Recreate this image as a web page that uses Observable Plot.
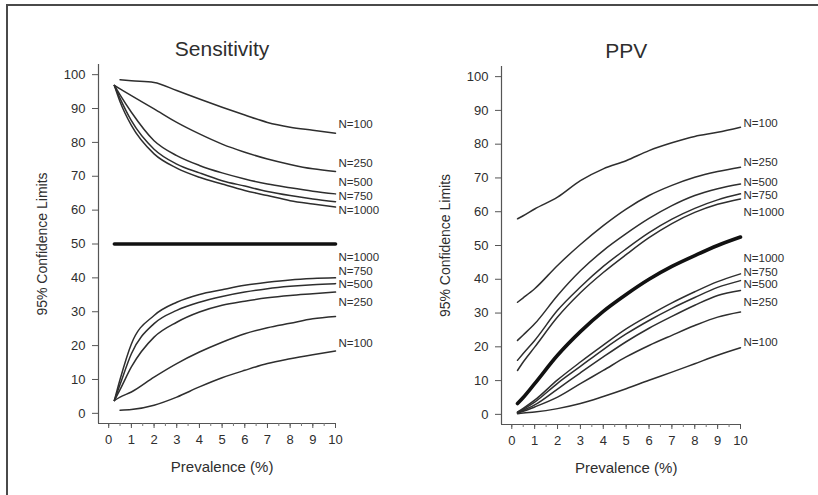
<!DOCTYPE html>
<html><head><meta charset="utf-8">
<script src="https://cdn.jsdelivr.net/npm/d3@7"></script>
<script src="https://cdn.jsdelivr.net/npm/@observablehq/plot@0.6"></script>
<style>
html,body{margin:0;padding:0;background:#fff;}
body{width:818px;height:495px;position:relative;overflow:hidden;font-family:"Liberation Sans",Arial,sans-serif;}
#frame{position:absolute;left:6px;top:4px;width:840px;height:540px;border:2px solid #4a4a4a;box-sizing:border-box;}
.panel{position:absolute;top:0;}
</style></head><body>
<div id="frame"></div>
<div id="left" class="panel" style="left:0px"></div>
<div id="right" class="panel" style="left:409px"></div>
<script>
// ---------- data ----------
const prevalence = [0.25, 0.5, 1, 2, 3, 4, 5, 6, 7, 8, 9, 10];
const seriesNames = ["N=100", "N=250", "N=500", "N=750", "N=1000"];
const xTicks = [0,1,2,3,4,5,6,7,8,9,10];
const xMinorTicks = [0,0.5,1,1.5,2,2.5,3,3.5,4,4.5,5,5.5,6,6.5,7,7.5,8,8.5,9,9.5,10];
const yTicks = [0,10,20,30,40,50,60,70,80,90,100];

// Sensitivity: upper 95% limits
const sensUpper100  = [null, 98.5, 98.2, 97.7, 95.3, 92.8, 90.4, 88.1, 85.9, 84.5, 83.6, 82.7];
const sensUpper250  = [96.8, 95.8, 93.8, 89.9, 85.9, 82.5, 79.5, 77.1, 75.1, 73.5, 72.2, 71.4];
const sensUpper500  = [96.8, 94.0, 88.9, 80.5, 76.1, 73.2, 71.0, 69.2, 67.7, 66.6, 65.6, 64.8];
const sensUpper750  = [96.8, 93.0, 86.4, 78.0, 73.6, 71.0, 68.7, 67.1, 65.5, 64.3, 63.3, 62.5];
const sensUpper1000 = [96.8, 92.0, 85.0, 76.6, 72.4, 69.7, 67.7, 65.8, 64.3, 62.8, 61.8, 60.9];
// Sensitivity: lower 95% limits
const sensLower100  = [null, 0.9, 1.1, 2.4, 4.8, 7.8, 10.5, 12.7, 14.7, 16.1, 17.3, 18.4];
const sensLower250  = [3.8, 4.8, 6.3, 10.7, 14.7, 18.1, 21.0, 23.5, 25.3, 26.6, 27.9, 28.6];
const sensLower500  = [3.8, 7.0, 13.7, 22.5, 26.9, 29.9, 31.9, 33.1, 34.1, 34.8, 35.3, 35.8];
const sensLower750  = [3.8, 8.5, 17.6, 26.5, 30.4, 32.8, 34.5, 35.8, 36.8, 37.5, 38.0, 38.3];
const sensLower1000 = [3.8, 10.0, 20.5, 28.9, 32.8, 35.1, 36.5, 37.8, 38.7, 39.4, 39.8, 40.0];
// Sensitivity point estimate
const sensPoint = [50, 50, 50, 50, 50, 50, 50, 50, 50, 50, 50, 50];

// PPV: upper 95% limits
const ppvUpper100  = [57.9, 58.8, 60.8, 64.3, 69.2, 72.7, 75.1, 78.1, 80.4, 82.3, 83.5, 85.0];
const ppvUpper250  = [33.2, 34.5, 37.2, 44.1, 50.3, 55.9, 60.8, 64.8, 67.8, 70.2, 71.9, 73.2];
const ppvUpper500  = [21.9, 23.5, 26.8, 35.2, 42.5, 48.5, 53.5, 58.0, 61.8, 64.8, 66.8, 68.2];
const ppvUpper750  = [16.0, 18.0, 21.9, 30.8, 37.7, 43.8, 49.0, 53.8, 57.8, 61.0, 63.5, 65.3];
const ppvUpper1000 = [13.0, 15.5, 19.9, 28.8, 36.0, 42.0, 47.3, 52.3, 56.5, 59.8, 62.2, 63.8];
// PPV: lower 95% limits
const ppvLower100  = [0.2, 0.4, 0.7, 1.7, 3.2, 5.3, 7.6, 10.1, 12.5, 15.0, 17.5, 19.7];
const ppvLower250  = [0.4, 0.9, 2.2, 5.1, 9.1, 13.0, 17.0, 20.4, 23.4, 26.3, 28.8, 30.3];
const ppvLower500  = [0.5, 1.2, 2.8, 7.5, 12.3, 17.0, 21.5, 25.5, 29.0, 32.3, 35.2, 36.7];
const ppvLower750  = [0.6, 1.5, 3.6, 9.2, 14.2, 19.2, 23.8, 27.8, 31.4, 34.6, 37.6, 39.6];
const ppvLower1000 = [0.7, 1.8, 4.2, 10.2, 15.5, 20.5, 25.3, 29.3, 33.0, 36.3, 39.3, 41.6];
// PPV point estimate
const ppvPoint = [3.2, 5.0, 9.1, 17.5, 24.5, 30.5, 35.5, 40.0, 43.8, 47.0, 50.0, 52.5];

// Curve label positions (value units) at the right end
const sensUpperLabelY = [85.3, 73.7, 68.1, 64.0, 59.9];
const sensLowerLabelY = [20.6, 32.7, 38.0, 42.0, 46.1];
const ppvUpperLabelY  = [86.1, 74.6, 68.6, 64.8, 59.8];
const ppvLowerLabelY  = [21.3, 33.1, 38.5, 42.2, 46.3];

const titles = ["Sensitivity", "PPV"];
const yLabel = "95% Confidence Limits";
const xLabel = "Prevalence (%)";

// ---------- helpers ----------
function tidy(list) {
  const rows = [];
  list.forEach(([name, vals]) => vals.forEach((v, i) => {
    if (v != null) rows.push({series: name, x: prevalence[i], y: v});
  }));
  return rows;
}
function labelRows(ys) {
  return ys.map((y, i) => ({text: seriesNames[i], x: prevalence[prevalence.length - 1], y}));
}

const ink = "#2e2e2e";
function panel({title, thin, thick, labels, mL, mR, mT, mB}) {
  return Plot.plot({
    width: 409, height: 495,
    marginLeft: mL, marginRight: mR, marginTop: mT, marginBottom: mB,
    x: {domain: [-0.45, 10], axis: null},
    y: {domain: [-3, 103], axis: null},
    style: {fontFamily: '"Liberation Sans", Arial, sans-serif', color: ink, background: "transparent", overflow: "visible"},
    marks: [
      Plot.ruleX([-0.45], {stroke: "#555", strokeWidth: 1.2}),
      Plot.ruleY([-3], {x1: -0.45, x2: 10, stroke: "#555", strokeWidth: 1.2}),
      Plot.axisY({ticks: yTicks, tickSize: 6, tickPadding: 7, fontSize: 13, label: null, stroke: "#555"}),
      Plot.axisX({ticks: xMinorTicks, tickSize: 3, text: null, label: null, stroke: "#777"}),
      Plot.axisX({ticks: xTicks, tickSize: 5, tickPadding: 6, fontSize: 13, label: null, stroke: "#555"}),
      Plot.line(tidy(thin), {x: "x", y: "y", z: "series", stroke: ink, strokeWidth: 1.5, curve: "monotone-x"}),
      Plot.line(tidy([["point", thick]]), {x: "x", y: "y", stroke: "#111", strokeWidth: 3.6, curve: "monotone-x"}),
      Plot.text(labels, {x: "x", y: "y", text: "text", dx: 3, textAnchor: "start", fontSize: 11.5, fill: ink, style: "letter-spacing:2px"}),
      Plot.text([title], {x: [5], y: [103], dy: -15, text: d => d, fontSize: 21, fill: ink}),
      Plot.text([yLabel], {x: [-0.45], y: [50], dx: -56, rotate: -90, text: d => d, fontSize: 14, fill: ink}),
      Plot.text([xLabel], {x: [5], y: [-3], dy: 44, text: d => d, fontSize: 15, fill: ink})
    ]
  });
}

const left = panel({
  title: titles[0],
  thin: [["N=100", sensUpper100], ["N=250", sensUpper250], ["N=500", sensUpper500], ["N=750", sensUpper750], ["N=1000", sensUpper1000],
         ["N=100 lo", sensLower100], ["N=250 lo", sensLower250], ["N=500 lo", sensLower500], ["N=750 lo", sensLower750], ["N=1000 lo", sensLower1000]],
  thick: sensPoint,
  labels: labelRows(sensUpperLabelY).concat(labelRows(sensLowerLabelY)),
  mL: 98, mR: 74, mT: 64, mB: 72
});
const right = panel({
  title: titles[1],
  thin: [["N=100", ppvUpper100], ["N=250", ppvUpper250], ["N=500", ppvUpper500], ["N=750", ppvUpper750], ["N=1000", ppvUpper1000],
         ["N=100 lo", ppvLower100], ["N=250 lo", ppvLower250], ["N=500 lo", ppvLower500], ["N=750 lo", ppvLower750], ["N=1000 lo", ppvLower1000]],
  thick: ppvPoint,
  labels: labelRows(ppvUpperLabelY).concat(labelRows(ppvLowerLabelY)),
  mL: 92, mR: 78, mT: 66, mB: 71
});
document.getElementById("left").appendChild(left);
document.getElementById("right").appendChild(right);
</script>
</body></html>
